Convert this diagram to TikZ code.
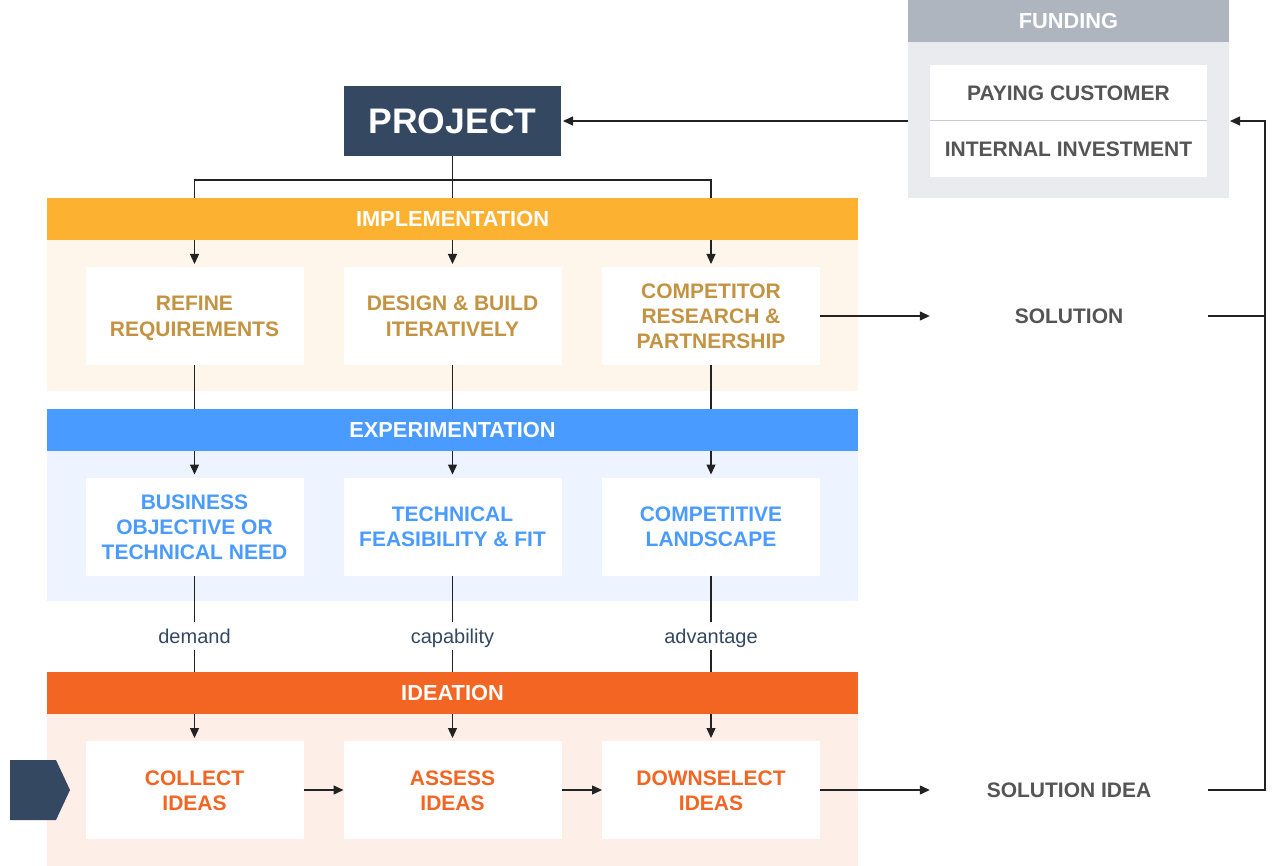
\documentclass[tikz,border=0pt]{standalone}
\usepackage{fontspec}
\setmainfont{Liberation Sans}
\usetikzlibrary{arrows.meta}
\definecolor{navy}{RGB}{52,72,98}
\definecolor{fundhdr}{RGB}{174,181,191}
\definecolor{fundbg}{RGB}{233,235,239}
\definecolor{funddiv}{RGB}{200,205,213}
\definecolor{implhdr}{RGB}{253,177,49}
\definecolor{implbg}{RGB}{254,246,234}
\definecolor{impltxt}{RGB}{196,147,66}
\definecolor{exphdr}{RGB}{74,155,255}
\definecolor{expbg}{RGB}{237,244,255}
\definecolor{idehdr}{RGB}{242,101,34}
\definecolor{idebg}{RGB}{253,238,232}
\definecolor{graytxt}{RGB}{85,85,85}
\definecolor{linec}{RGB}{34,34,34}
\newcommand\boxtext[1]{\raisebox{-2.5pt}[\height][\depth]{\begin{tabular}{@{}c@{}}#1\end{tabular}}}
\pgfdeclarelayer{background}
\pgfdeclarelayer{foreground}
\pgfsetlayers{background,main,foreground}
\tikzset{
  bigfont/.style={font=\fontsize{21}{25}\selectfont\bfseries},
  hdrfont/.style={font=\fontsize{21.8}{25}\selectfont\bfseries},
  hdr/.style={rectangle, minimum width=811pt, minimum height=42pt, inner sep=0pt, outer sep=0pt, text=white, hdrfont},
  panel/.style={rectangle, minimum width=811pt, inner sep=0pt, outer sep=0pt},
  wbox/.style={rectangle, fill=white, minimum width=218pt, minimum height=98pt, inner sep=0pt, outer sep=0pt, bigfont},
  lbl/.style={rectangle, inner sep=0pt, minimum height=28pt, text height=14.5pt, text depth=0pt, text=navy, font=\fontsize{20}{22}\selectfont},
  soltxt/.style={rectangle, inner sep=0pt, minimum width=278pt, minimum height=30pt, text=graytxt, bigfont},
  arr/.style={-{Triangle[length=10pt,width=9pt]}, line width=1.3pt, draw=linec},
  ln/.style={line width=1.3pt, draw=linec},
}
\begin{document}
\begin{tikzpicture}[x=1pt,y=-1pt]
\useasboundingbox (0,0) rectangle (1276,866);
% backgrounds
\begin{pgfonlayer}{background}
  \fill[white] (0,0) rectangle (1276,866);
  \node[panel, fill=implbg, minimum height=151pt] (implp) at (452.5,315.5) {};
  \node[panel, fill=expbg, minimum height=150pt] (expp) at (452.5,526) {};
  \node[panel, fill=idebg, minimum height=152pt] (idep) at (452.5,790) {};
  \node[rectangle, fill=fundbg, minimum width=321pt, minimum height=198pt, inner sep=0pt, outer sep=0pt] (fund) at (1068.5,99) {};
\end{pgfonlayer}
% headers on top
\begin{pgfonlayer}{foreground}
  \node[hdr, fill=implhdr] (implh) at (452.5,219) {IMPLEMENTATION};
  \node[hdr, fill=exphdr] (exph) at (452.5,430) {EXPERIMENTATION};
  \node[hdr, fill=idehdr] (ideh) at (452.5,693) {IDEATION};
  \node[rectangle, fill=fundhdr, minimum width=321pt, minimum height=42pt, inner sep=0pt, text=white, hdrfont] (fundh) at (1068.5,21) {FUNDING};
\end{pgfonlayer}
% funding list
\node[rectangle, fill=white, minimum width=277pt, minimum height=56pt, inner sep=0pt, outer sep=0pt, text=graytxt, bigfont] (pay) at (1068.5,93) {PAYING CUSTOMER};
\node[rectangle, fill=white, minimum width=277pt, minimum height=56pt, inner sep=0pt, outer sep=0pt, text=graytxt, bigfont] (inv) at (1068.5,149) {INTERNAL INVESTMENT};
\draw[funddiv, line width=1pt] (pay.south west) -- (pay.south east);
% project
\node[rectangle, fill=navy, minimum width=217pt, minimum height=70pt, inner sep=0pt, outer sep=0pt, text=white, font=\fontsize{35.5}{40}\selectfont\bfseries] (proj) at (452.5,121.5) {PROJECT};
% implementation boxes
\node[wbox, text=impltxt] (r1) at (194.5,316) {\boxtext{REFINE\\REQUIREMENTS}};
\node[wbox, text=impltxt] (r2) at (452.5,316) {\boxtext{DESIGN \& BUILD\\ITERATIVELY}};
\node[wbox, text=impltxt] (r3) at (711,316) {\boxtext{COMPETITOR\\RESEARCH \&\\PARTNERSHIP}};
% experimentation boxes
\node[wbox, text=exphdr] (e1) at (194.5,526.5) {\boxtext{BUSINESS\\OBJECTIVE OR\\TECHNICAL NEED}};
\node[wbox, text=exphdr] (e2) at (452.5,526.5) {\boxtext{TECHNICAL\\FEASIBILITY \& FIT}};
\node[wbox, text=exphdr] (e3) at (711,526.5) {\boxtext{COMPETITIVE\\LANDSCAPE}};
% ideation boxes
\node[wbox, text=idehdr] (i1) at (194.5,790) {\boxtext{COLLECT\\IDEAS}};
\node[wbox, text=idehdr] (i2) at (452.5,790) {\boxtext{ASSESS\\IDEAS}};
\node[wbox, text=idehdr] (i3) at (711,790) {\boxtext{DOWNSELECT\\IDEAS}};
% labels
\node[lbl] (l1) at (194.5,636) {demand};
\node[lbl] (l2) at (452.5,636) {capability};
\node[lbl] (l3) at (711,636) {advantage};
% solutions
\node[soltxt] (sol) at (1069,316) {SOLUTION};
\node[soltxt] (soli) at (1069,790) {SOLUTION IDEA};
% chevron
\fill[navy] (10,760) -- (56,760) -- (70,790) -- (56,820) -- (10,820) -- cycle;
% connectors
\coordinate (j) at (452.5,180);
\coordinate (rt) at (1265,121);
\draw[arr, shorten >=2pt] (fund.west |- rt) -- (proj.east |- rt);
\draw[ln] (proj.south) -- (j);
\draw[arr, shorten >=3pt] (j) -| (r1.north);
\draw[arr, shorten >=3pt] (j) -- (r2.north);
\draw[arr, shorten >=3pt] (j) -| (r3.north);
\draw[arr, shorten >=3pt] (r1.south) -- (e1.north);
\draw[arr, shorten >=3pt] (r2.south) -- (e2.north);
\draw[arr, shorten >=3pt] (r3.south) -- (e3.north);
\draw[ln] (e1.south) -- (l1.north);
\draw[ln] (e2.south) -- (l2.north);
\draw[ln] (e3.south) -- (l3.north);
\draw[arr, shorten >=3pt] (l1.south) -- (i1.north);
\draw[arr, shorten >=3pt] (l2.south) -- (i2.north);
\draw[arr, shorten >=3pt] (l3.south) -- (i3.north);
\draw[arr] (i1.east) -- (i2.west);
\draw[arr] (i2.east) -- (i3.west);
\draw[arr] (i3.east) -- (soli.west);
\draw[arr] (r3.east) -- (sol.west);
\draw[ln] (sol.east) -- (sol.east -| rt);
\draw[arr, shorten >=1pt] (soli.east) -| (rt) -- (fund.east |- rt);
\end{tikzpicture}
\end{document}
